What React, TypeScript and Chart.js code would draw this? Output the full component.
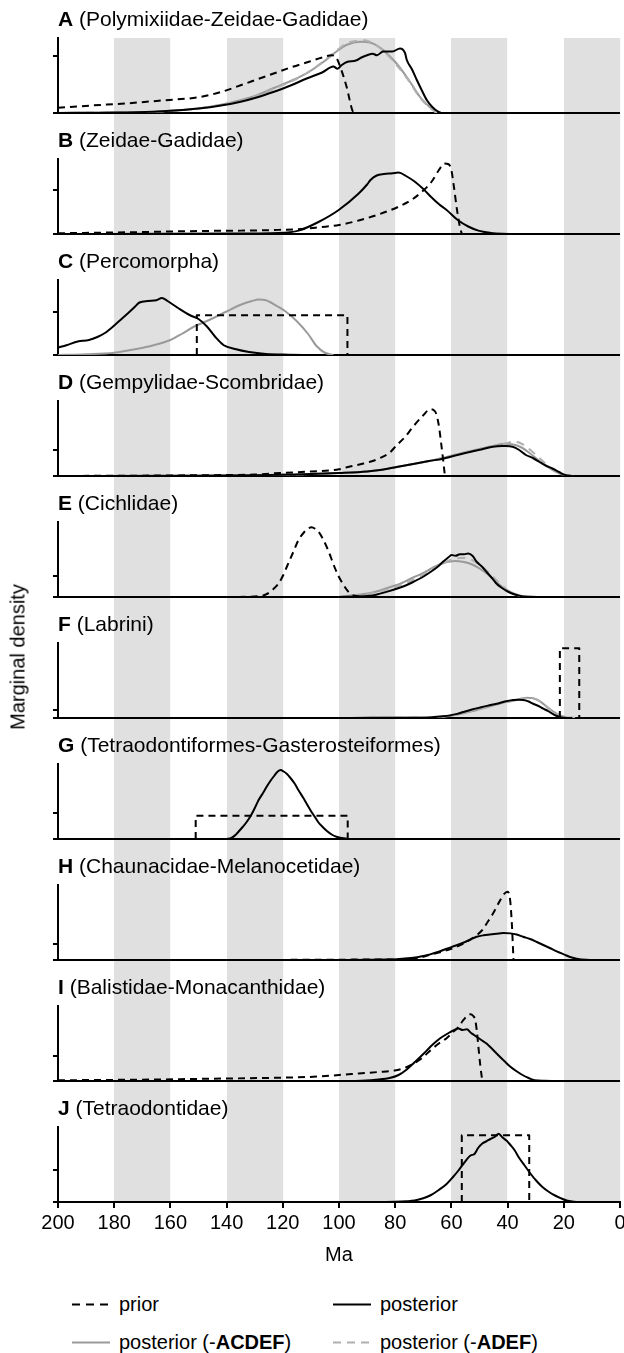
import React, { useEffect, useRef } from "react";
import { Chart, registerables } from "chart.js";

Chart.register(...registerables);

const FONT = '"Liberation Sans", Arial, Helvetica, sans-serif';

type Pt = [number, number];

const panelLetters = ["A", "B", "C", "D", "E", "F", "G", "H", "I", "J"];
const panelNames = [
  "Polymixiidae-Zeidae-Gadidae",
  "Zeidae-Gadidae",
  "Percomorpha",
  "Gempylidae-Scombridae",
  "Cichlidae",
  "Labrini",
  "Tetraodontiformes-Gasterosteiformes",
  "Chaunacidae-Melanocetidae",
  "Balistidae-Monacanthidae",
  "Tetraodontidae",
];
const panelTickValues = [0.76, 0.59, 0.58, 0.35, 0.28, 0.11, 0.34, 0.21, 0.33, 0.42];
const bandCenters = [170, 130, 90, 50, 10];
const xTickStep = 20;

// ---- A ----
const priorA: Pt[] = [[200,.07],[188,.1],[175,.13],[162,.17],[150,.21],[142,.28],[135,.37],[129,.45],[123,.53],[117,.61],[111,.68],[106,.74],[102.6,.77],[101,.74],[99.6,.62],[97.3,.35],[95.2,.03],[94.5,0]];
const postA: Pt[] = [[200,0],[185,.005],[172,.01],[160,.03],[150,.06],[142,.1],[135,.15],[129,.21],[123.4,.28],[117,.37],[111.5,.46],[106,.54],[102,.62],[100.5,.59],[99,.64],[97.2,.68],[94,.7],[92,.74],[90,.77],[88,.79],[86.5,.77],[84.3,.82],[81,.82],[78.3,.86],[76.5,.8],[75.9,.71],[74,.58],[72.3,.44],[70.5,.3],[68.7,.17],[66.8,.08],[65.2,.03],[63.5,0]];
const acdefA: Pt[] = [[200,0],[180,.005],[170,.01],[160,.03],[150,.06],[142,.11],[135.2,.17],[129,.24],[123.4,.33],[117,.43],[111.5,.53],[105.6,.68],[100.9,.82],[97.2,.91],[92.5,.95],[89,.94],[86.5,.9],[84.3,.84],[79.5,.66],[74.8,.42],[71.3,.22],[67.7,.08],[65.2,0]];
const adefA: Pt[] = [[200,0],[180,.005],[170,.01],[160,.03],[150,.06],[142,.11],[135.2,.16],[129,.23],[123.4,.32],[117,.42],[111.5,.53],[105.6,.69],[100.9,.83],[97.2,.93],[94,.96],[91,.97],[88,.93],[84.3,.83],[79.5,.64],[74.8,.41],[71.3,.21],[67.7,.07],[65.2,0]];
// ---- B ----
const priorB: Pt[] = [[200,.01],[180,.02],[164,.03],[150,.04],[135,.045],[121.5,.055],[112,.07],[107,.09],[100,.12],[93,.18],[86,.26],[79,.36],[74,.46],[70,.58],[67,.7],[64.5,.85],[62.5,.94],[61,.93],[60,.85],[59,.6],[58,.32],[57,.1],[56.3,0]];
const postB: Pt[] = [[200,0],[160,.003],[130,.008],[121.5,.012],[114.4,.045],[107.3,.16],[100.1,.32],[93,.54],[90,.66],[88.8,.72],[86.6,.78],[84,.8],[81,.81],[78.8,.82],[76,.77],[73.1,.7],[70,.6],[67.4,.5],[64.5,.4],[61.7,.32],[57.5,.18],[54,.1],[50.4,.045],[46,.015],[42,.003],[38,0]];
// ---- C ----
const priorC: Pt[] = [[150.6,0],[150.6,.53],[97,.53],[97,0]];
const postC: Pt[] = [[200,.1],[197,.13],[193,.18],[189,.2],[186,.24],[183,.3],[181,.36],[178,.46],[175,.56],[173,.63],[171,.7],[168,.72],[165,.73],[163,.76],[161,.72],[159,.67],[157,.62],[153,.53],[150,.48],[147,.38],[144,.24],[141,.13],[137,.08],[132,.04],[126,.015],[118,.005],[110,0]];
const acdefC: Pt[] = [[200,0],[190,.01],[180,.03],[172,.08],[166,.13],[160,.2],[156,.28],[152,.37],[146,.47],[140,.58],[135,.67],[131,.72],[128.5,.74],[126,.73],[122,.65],[119,.58],[115,.45],[111,.28],[108,.12],[105,.03],[102,0]];
// ---- D ----
const priorD: Pt[] = [[200,0],[170,.005],[150,.01],[130,.02],[121,.04],[110,.06],[100,.09],[96.8,.12],[92,.16],[88,.2],[85.4,.24],[82,.31],[79.5,.41],[76.5,.52],[73.6,.66],[70,.81],[67.6,.89],[65.8,.86],[64.6,.7],[63.5,.39],[62.3,0]];
const postD: Pt[] = [[200,0],[150,.003],[130,.01],[115,.02],[100,.04],[90,.06],[85.4,.08],[79.5,.12],[73.6,.16],[68,.2],[63,.23],[59,.27],[54.7,.31],[50,.35],[45.3,.39],[42,.4],[40.6,.4],[38.2,.39],[36,.35],[33.5,.28],[31,.24],[28.8,.19],[26.5,.14],[24.1,.1],[21.5,.05],[19.3,.01],[17,0]];
const acdefD: Pt[] = [[200,0],[150,.003],[130,.01],[115,.02],[100,.04],[90,.06],[85.4,.08],[79.5,.12],[73.6,.16],[68,.2],[63,.24],[59,.28],[54.7,.32],[50,.36],[45.3,.4],[41,.43],[38,.42],[35,.38],[32,.3],[29,.21],[26,.13],[23,.06],[20,.015],[17,0]];
const adefD: Pt[] = [[200,0],[150,.003],[130,.01],[115,.02],[100,.04],[90,.06],[85.4,.08],[79.5,.12],[73.6,.16],[68,.2],[63,.24],[59,.28],[54.7,.32],[50,.36],[45.3,.4],[41,.43],[37.5,.46],[35,.43],[32,.35],[29,.25],[26,.15],[23,.07],[20,.02],[17,0]];
// ---- E ----
const priorE: Pt[] = [[140,0],[128.6,.01],[125.7,.04],[123.5,.1],[121.5,.18],[120,.28],[118.6,.4],[116.5,.58],[114.4,.76],[112.5,.86],[111,.91],[109.8,.93],[108.5,.91],[107.3,.87],[105.8,.78],[104.4,.67],[103,.54],[101.6,.4],[100.2,.28],[98.7,.18],[97.3,.1],[95.9,.04],[93,.01],[90,0]];
const postE: Pt[] = [[100,0],[92,.01],[88,.02],[85.4,.045],[82.5,.075],[79.5,.11],[76.5,.15],[73.6,.2],[70.5,.26],[67.6,.33],[65,.4],[63,.47],[61,.53],[60,.56],[58.5,.55],[57,.57],[55.5,.57],[54,.58],[52.5,.55],[51,.47],[49,.4],[47.4,.33],[45.5,.25],[44,.18],[42,.12],[40.3,.08],[38,.04],[35.6,.015],[32,.003],[28,0]];
const acdefE: Pt[] = [[100,0],[96,.02],[91,.04],[86,.08],[82,.13],[78,.18],[73.6,.26],[70,.32],[67.6,.37],[65,.42],[63,.45],[61,.47],[58.5,.48],[56,.47],[53,.44],[50,.38],[47,.3],[44,.2],[41,.11],[38,.05],[35,.015],[32,0]];
const adefE: Pt[] = [[100,0],[96,.015],[91,.035],[86,.07],[82,.11],[78,.16],[73.6,.23],[70,.3],[67.6,.35],[65,.41],[63,.45],[60,.5],[57,.52],[55,.52],[52,.48],[49,.4],[46,.3],[43,.19],[40,.09],[37,.03],[34,.008],[31,0]];
// ---- F ----
const priorF: Pt[] = [[21.4,0],[21.4,.93],[14.5,.93],[14.5,0]];
const postF: Pt[] = [[100,0],[89,.002],[80,.005],[70,.005],[67.6,.008],[64,.02],[60.5,.035],[58,.055],[55.8,.08],[53,.11],[49.8,.14],[47,.165],[43.9,.19],[41,.22],[38,.24],[36,.245],[34.4,.24],[32.5,.22],[30.9,.19],[29,.16],[27.3,.125],[25.5,.09],[23.7,.05],[22,.02],[20.2,.005],[17,0]];
const acdefF: Pt[] = [[95,0],[80,.004],[70,.006],[64,.015],[60.5,.028],[56,.06],[52,.095],[49.8,.12],[46,.16],[42,.2],[38,.23],[35,.26],[33,.27],[31,.265],[29,.235],[27,.18],[25,.12],[23,.07],[21,.03],[19,.008],[16,0]];
const adefF: Pt[] = [[95,0],[80,.004],[70,.006],[64,.015],[60.5,.03],[56,.062],[52,.1],[49.8,.125],[46,.165],[42,.2],[38,.235],[35,.255],[33,.265],[31,.26],[29,.23],[27,.175],[25,.115],[23,.065],[21,.028],[19,.008],[16,0]];
// ---- G ----
const priorG: Pt[] = [[151,0],[151,.31],[96.9,.31],[96.9,0]];
const postG: Pt[] = [[140,0],[138.5,.01],[137.1,.045],[135.7,.1],[134.3,.16],[132.8,.23],[131.4,.31],[130,.41],[128.6,.52],[127.1,.61],[125.7,.7],[124.3,.78],[122.9,.85],[121.8,.9],[120.8,.92],[119.7,.9],[118.6,.87],[117.2,.81],[115.8,.74],[114.4,.65],[112.9,.56],[111.5,.47],[110.1,.38],[108.7,.3],[107.3,.22],[105.8,.16],[104.4,.11],[102.6,.06],[100.9,.03],[99,.012],[97.3,.005],[95,0]];
// ---- H ----
const priorH: Pt[] = [[130,0],[110,.003],[90,.006],[80,.008],[75.9,.01],[71,.035],[67.6,.07],[64.5,.1],[61.7,.13],[58.5,.17],[55.8,.22],[53.4,.27],[51,.33],[49,.4],[47.4,.49],[45.5,.6],[43.9,.71],[42.6,.8],[41.5,.87],[40,.91],[39.1,.8],[38.5,.49],[37.9,0]];
const postH: Pt[] = [[100,0],[88,.003],[83,.006],[79.5,.01],[76.5,.02],[73.6,.03],[70.5,.05],[67.6,.075],[64.5,.11],[61.7,.15],[58.7,.19],[55.8,.23],[53.4,.27],[51,.31],[48.5,.33],[46.3,.34],[44,.35],[41.5,.36],[39,.355],[36.8,.34],[34.5,.31],[32,.28],[29.6,.24],[27.3,.2],[25,.16],[22.5,.115],[20,.075],[17.8,.04],[15,.015],[12,.004],[8,0]];
// ---- I ----
const priorI: Pt[] = [[200,.01],[180,.015],[164,.02],[150,.028],[135.7,.035],[120,.045],[107.3,.06],[100,.08],[93,.1],[86,.12],[80.2,.14],[77,.17],[74.5,.21],[71,.29],[67.4,.41],[64.5,.5],[61.7,.57],[59.5,.65],[57.5,.72],[56,.8],[54.6,.86],[53.2,.89],[52.3,.87],[51.5,.81],[50.9,.65],[50.4,.46],[49.7,.2],[49,0]];
const postI: Pt[] = [[100,0],[92,.005],[85.9,.02],[82,.04],[78.8,.08],[76,.15],[73.1,.25],[70,.36],[67.4,.46],[65,.54],[63.2,.59],[61,.64],[58.9,.68],[57.5,.7],[56,.68],[54.5,.69],[53,.64],[51.8,.61],[49.5,.55],[47.5,.5],[45.3,.42],[43.2,.34],[41,.26],[39,.19],[36.8,.13],[34.7,.08],[32.5,.04],[30.4,.01],[27,.002],[23,0]];
// ---- J ----
const priorJ: Pt[] = [[56.3,0],[56.3,.89],[32.3,.89],[32.3,0]];
const postJ: Pt[] = [[85,0],[80,.003],[76,.01],[73.1,.02],[70,.05],[67.4,.09],[64.5,.16],[61.7,.24],[59.5,.33],[57.5,.42],[55.5,.52],[53.2,.62],[51.8,.64],[50.5,.72],[49,.78],[47.5,.81],[46.1,.84],[44.5,.87],[43.2,.91],[41.8,.86],[40.4,.82],[39,.76],[37.5,.69],[36.1,.6],[34,.49],[31.9,.38],[29.7,.28],[27.6,.2],[25.5,.14],[23.3,.09],[21,.05],[19,.02],[17,.006],[14.8,0]];

const priors: Pt[][] = [priorA, priorB, priorC, priorD, priorE, priorF, priorG, priorH, priorI, priorJ];
const priorIsBox = [false, false, true, false, false, true, true, false, false, true];
const posteriors: Pt[][] = [postA, postB, postC, postD, postE, postF, postG, postH, postI, postJ];
const posteriorsACDEF: (Pt[] | null)[] = [acdefA, null, acdefC, acdefD, acdefE, acdefF, null, null, null, null];
const posteriorsADEF: (Pt[] | null)[] = [adefA, null, null, adefD, adefE, adefF, null, null, null, null];

const BLACK = "#000000";
const GREY = "#9a9a9a";
const LIGHT_GREY = "#b0b0b0";
const BAND = "#e0e0e0";
const PRIOR_DASH = [7, 5];
const GREY_DASH = [8, 6];

const PLOT_WEIGHT = 75;
const GAP_WEIGHT = 46;

function line(data: Pt[], axis: string, color: string, dash: number[], order: number, straight: boolean) {
  return {
    data: data.map(([x, y]) => ({ x, y })),
    xAxisID: "x",
    yAxisID: axis,
    borderColor: color,
    borderWidth: 2,
    borderDash: dash,
    borderJoinStyle: "round",
    pointRadius: 0,
    fill: false,
    order,
    tension: straight ? 0 : 0.4,
    cubicInterpolationMode: straight ? "default" : "monotone",
  };
}

const titlesPlugin = {
  id: "panelTitles",
  afterDraw(chart: any) {
    const ctx = chart.ctx;
    const left = chart.chartArea.left;
    ctx.save();
    ctx.fillStyle = "#000";
    ctx.textBaseline = "middle";
    ctx.textAlign = "left";
    for (let i = 0; i < panelLetters.length; i++) {
      const sc = chart.scales["p" + i];
      const y = sc.top - 18;
      ctx.font = `bold 21px ${FONT}`;
      ctx.fillText(panelLetters[i], left, y);
      const w = ctx.measureText(panelLetters[i]).width;
      ctx.font = `21px ${FONT}`;
      ctx.fillText(" (" + panelNames[i] + ")", left + w, y);
    }
    ctx.restore();
  },
};

function LegendItem(props: { x: number; y: number; color: string; dash?: string; children: any }) {
  return (
    <div
      style={{
        position: "absolute",
        left: props.x,
        top: props.y,
        transform: "translateY(-50%)",
        display: "flex",
        alignItems: "center",
        whiteSpace: "nowrap",
        font: `20px ${FONT}`,
        color: "#000",
      }}
    >
      <svg width={38} height={4} style={{ marginRight: 9 }}>
        <line x1={0} y1={2} x2={38} y2={2} stroke={props.color} strokeWidth={2.2} strokeDasharray={props.dash || "none"} />
      </svg>
      <span>{props.children}</span>
    </div>
  );
}

export default function App() {
  const ref = useRef<HTMLCanvasElement>(null);

  useEffect(() => {
    const canvas = ref.current;
    if (!canvas) return;
    const datasets: any[] = [];
    const scales: any = {
      x: {
        type: "linear",
        position: "bottom",
        min: 0,
        max: 200,
        reverse: true,
        afterFit: (s: any) => {
          s.height = 69;
          s.paddingLeft = 0;
          s.paddingRight = 0;
        },
        ticks: { stepSize: xTickStep, color: "#000", font: { size: 20, family: FONT }, padding: 3, maxRotation: 0, autoSkip: false },
        grid: { drawOnChartArea: false, drawTicks: true, tickLength: 6, color: "#000", lineWidth: 2 },
        border: { display: true, color: "#000", width: 2 },
        title: { display: true, text: "Ma", color: "#000", font: { size: 20, family: FONT }, padding: { top: 4, bottom: 4 } },
      },
      bands: {
        type: "linear",
        position: "top",
        min: 0,
        max: 200,
        reverse: true,
        afterBuildTicks: (s: any) => {
          s.ticks = bandCenters.map((v) => ({ value: v }));
        },
        afterFit: (s: any) => {
          s.height = 0;
          s.paddingLeft = 0;
          s.paddingRight = 0;
        },
        ticks: { display: false },
        grid: {
          z: -2,
          color: BAND,
          drawTicks: false,
          lineWidth: (c: any) => (c.scale.width * 20) / 200,
        },
        border: { display: false },
      },
    };

    for (let i = 0; i < panelLetters.length; i++) {
      const id = "p" + i;
      const tv = panelTickValues[i];
      scales[id] = {
        type: "linear",
        position: "left",
        stack: "panels",
        stackWeight: PLOT_WEIGHT,
        weight: 100 - 2 * i,
        min: 0,
        max: 1,
        afterBuildTicks: (s: any) => {
          s.ticks = [{ value: 0 }, { value: tv }];
        },
        afterFit: (s: any) => {
          s.width = 6;
        },
        ticks: { display: false },
        grid: {
          color: (c: any) => (c.tick && c.tick.value === 0 ? "#000" : "rgba(0,0,0,0)"),
          lineWidth: 2,
          tickColor: "#000",
          tickWidth: 2,
          tickLength: 5,
          drawTicks: true,
          drawOnChartArea: true,
        },
        border: { display: true, color: "#000", width: 2 },
      };
      if (i < panelLetters.length - 1) {
        scales["s" + i] = {
          type: "linear",
          position: "left",
          stack: "panels",
          stackWeight: GAP_WEIGHT,
          weight: 99 - 2 * i,
          display: false,
        };
      }
      datasets.push(line(posteriors[i], id, BLACK, [], 0, false));
      datasets.push(line(priors[i], id, BLACK, PRIOR_DASH, 1, priorIsBox[i]));
      const ad = posteriorsADEF[i];
      if (ad) datasets.push(line(ad, id, LIGHT_GREY, GREY_DASH, 2, false));
      const ac = posteriorsACDEF[i];
      if (ac) datasets.push(line(ac, id, GREY, [], 3, false));
    }

    const chart = new Chart(canvas, {
      type: "line",
      data: { datasets },
      options: {
        responsive: false,
        animation: false,
        events: [],
        layout: { padding: { top: 38, left: 52, right: 4, bottom: 9 } },
        plugins: { legend: { display: false }, tooltip: { enabled: false }, title: { display: false } },
        scales,
      } as any,
      plugins: [titlesPlugin],
    } as any);
    return () => chart.destroy();
  }, []);

  return (
    <div style={{ position: "absolute", left: 0, top: 0, width: 624, height: 1353, background: "#fff", fontFamily: FONT }}>
      <canvas ref={ref} width={624} height={1280} style={{ position: "absolute", left: 0, top: 0, width: 624, height: 1280 }} />
      <div
        style={{
          position: "absolute",
          left: 18,
          top: 657,
          transform: "translate(-50%, -50%) rotate(-90deg)",
          whiteSpace: "nowrap",
          font: `20px ${FONT}`,
          color: "#000",
        }}
      >
        Marginal density
      </div>
      <LegendItem x={72} y={1304} color={BLACK} dash="8 6">prior</LegendItem>
      <LegendItem x={333} y={1304} color={BLACK}>posterior</LegendItem>
      <LegendItem x={72} y={1342} color={GREY}>
        posterior (-<b>ACDEF</b>)
      </LegendItem>
      <LegendItem x={333} y={1342} color={LIGHT_GREY} dash="8 6">
        posterior (-<b>ADEF</b>)
      </LegendItem>
    </div>
  );
}
